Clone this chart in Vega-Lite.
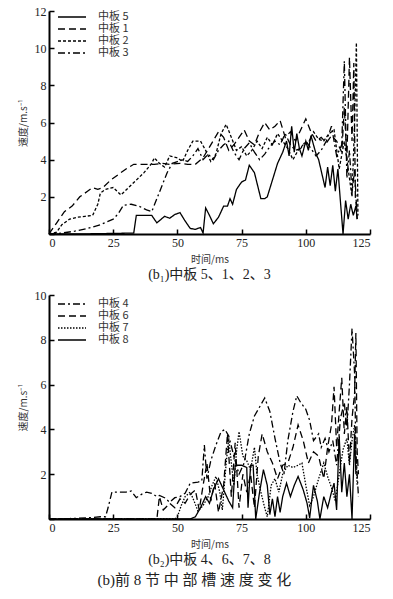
{
"$schema": "https://vega.github.io/schema/vega-lite/v6.json",
"background": "white",
"padding": {"left": 18, "top": 5, "right": 8, "bottom": 5},
"config": {
  "view": {"stroke": null},
  "font": "Liberation Serif, Noto Sans CJK SC",
  "axis": {"domainColor": "black", "domainWidth": 2, "tickColor": "black", "tickWidth": 1.5, "tickSize": -5, "labelFontSize": 12, "labelColor": "#222", "labelFont": "Liberation Serif, serif", "grid": false, "titleFont": "Noto Sans CJK SC", "titleFontWeight": "normal", "titleFontSize": 10, "titleColor": "#333", "labelPadding": 8},
  "axisY": {"titlePadding": 6},
  "axisX": {"titlePadding": 6},
  "legend": {"labelFont": "Noto Sans CJK SC", "labelFontSize": 11, "labelColor": "#333"}
},
"datasets": {
"p1": [
{"s":"中板 5","t":0,"v":0},{"s":"中板 5","t":10,"v":0},{"s":"中板 5","t":20,"v":0.02},{"s":"中板 5","t":33,"v":0.05},{"s":"中板 5","t":34,"v":1.0},{"s":"中板 5","t":40,"v":1.0},{"s":"中板 5","t":42,"v":0.6},{"s":"中板 5","t":45,"v":0.95},{"s":"中板 5","t":47,"v":0.85},{"s":"中板 5","t":49,"v":1.05},{"s":"中板 5","t":51,"v":1.15},{"s":"中板 5","t":53,"v":0.7},{"s":"中板 5","t":55,"v":0.3},{"s":"中板 5","t":57,"v":0.25},{"s":"中板 5","t":59,"v":0.35},{"s":"中板 5","t":60,"v":0.05},{"s":"中板 5","t":61,"v":1.4},{"s":"中板 5","t":62.5,"v":1.0},{"s":"中板 5","t":64,"v":0.55},{"s":"中板 5","t":66,"v":0.9},{"s":"中板 5","t":68,"v":1.5},{"s":"中板 5","t":69.5,"v":1.5},{"s":"中板 5","t":70.5,"v":1.9},{"s":"中板 5","t":71.5,"v":1.6},{"s":"中板 5","t":73,"v":2.4},{"s":"中板 5","t":75,"v":2.8},{"s":"中板 5","t":76.5,"v":2.9},{"s":"中板 5","t":78,"v":3.7},{"s":"中板 5","t":80,"v":3.3},{"s":"中板 5","t":82.5,"v":1.9},{"s":"中板 5","t":84,"v":1.9},{"s":"中板 5","t":85,"v":2.0},{"s":"中板 5","t":87,"v":2.9},{"s":"中板 5","t":89,"v":3.8},{"s":"中板 5","t":91,"v":4.4},{"s":"中板 5","t":92.5,"v":5.0},{"s":"中板 5","t":93.5,"v":4.2},{"s":"中板 5","t":94.5,"v":5.8},{"s":"中板 5","t":95.5,"v":4.4},{"s":"中板 5","t":96.5,"v":5.4},{"s":"中板 5","t":97.5,"v":4.6},{"s":"中板 5","t":98.5,"v":4.2},{"s":"中板 5","t":100,"v":5.0},{"s":"中板 5","t":101,"v":4.5},{"s":"中板 5","t":102,"v":5.3},{"s":"中板 5","t":103,"v":4.8},{"s":"中板 5","t":104,"v":4.3},{"s":"中板 5","t":105,"v":4.0},{"s":"中板 5","t":106,"v":3.4},{"s":"中板 5","t":107.5,"v":2.5},{"s":"中板 5","t":108.5,"v":3.6},{"s":"中板 5","t":109.5,"v":2.6},{"s":"中板 5","t":110.5,"v":3.7},{"s":"中板 5","t":111.5,"v":2.3},{"s":"中板 5","t":112.5,"v":3.5},{"s":"中板 5","t":113.4,"v":1.9},{"s":"中板 5","t":114.5,"v":0.0},{"s":"中板 5","t":115.5,"v":1.8},{"s":"中板 5","t":116.5,"v":0.8},{"s":"中板 5","t":117.5,"v":1.6},{"s":"中板 5","t":118.5,"v":1.0},{"s":"中板 5","t":119.5,"v":1.5},{"s":"中板 5","t":120,"v":0.8},
{"s":"中板 1","t":0,"v":0},{"s":"中板 1","t":3,"v":0.6},{"s":"中板 1","t":6,"v":1.2},{"s":"中板 1","t":9,"v":1.5},{"s":"中板 1","t":12,"v":2.0},{"s":"中板 1","t":15,"v":2.3},{"s":"中板 1","t":17,"v":2.5},{"s":"中板 1","t":19,"v":2.4},{"s":"中板 1","t":21,"v":2.5},{"s":"中板 1","t":24,"v":2.9},{"s":"中板 1","t":27,"v":3.2},{"s":"中板 1","t":30,"v":3.5},{"s":"中板 1","t":33,"v":3.75},{"s":"中板 1","t":37,"v":3.75},{"s":"中板 1","t":41,"v":3.75},{"s":"中板 1","t":44,"v":3.8},{"s":"中板 1","t":47,"v":3.75},{"s":"中板 1","t":51,"v":3.8},{"s":"中板 1","t":54,"v":3.75},{"s":"中板 1","t":57,"v":3.75},{"s":"中板 1","t":60,"v":4.1},{"s":"中板 1","t":63,"v":4.8},{"s":"中板 1","t":66,"v":5.5},{"s":"中板 1","t":68,"v":5.2},{"s":"中板 1","t":70,"v":4.5},{"s":"中板 1","t":72,"v":4.8},{"s":"中板 1","t":74,"v":5.2},{"s":"中板 1","t":76,"v":5.6},{"s":"中板 1","t":78,"v":5.0},{"s":"中板 1","t":80,"v":4.8},{"s":"中板 1","t":82,"v":5.5},{"s":"中板 1","t":84,"v":6.0},{"s":"中板 1","t":86,"v":5.6},{"s":"中板 1","t":88,"v":5.8},{"s":"中板 1","t":90,"v":6.1},{"s":"中板 1","t":92,"v":5.2},{"s":"中板 1","t":94,"v":5.5},{"s":"中板 1","t":96,"v":5.0},{"s":"中板 1","t":98,"v":5.6},{"s":"中板 1","t":100,"v":6.2},{"s":"中板 1","t":102,"v":5.5},{"s":"中板 1","t":104,"v":5.0},{"s":"中板 1","t":106,"v":5.2},{"s":"中板 1","t":108,"v":4.9},{"s":"中板 1","t":110,"v":5.3},{"s":"中板 1","t":112,"v":5.0},{"s":"中板 1","t":114,"v":4.4},{"s":"中板 1","t":115,"v":6.8},{"s":"中板 1","t":116,"v":4.0},{"s":"中板 1","t":117,"v":9.5},{"s":"中板 1","t":118,"v":5.0},{"s":"中板 1","t":118.7,"v":9.2},{"s":"中板 1","t":119.3,"v":2.0},{"s":"中板 1","t":120,"v":1.2},
{"s":"中板 2","t":0,"v":0},{"s":"中板 2","t":3,"v":0.1},{"s":"中板 2","t":5,"v":0.5},{"s":"中板 2","t":8,"v":0.8},{"s":"中板 2","t":11,"v":0.9},{"s":"中板 2","t":14,"v":0.95},{"s":"中板 2","t":17,"v":1.0},{"s":"中板 2","t":19,"v":1.6},{"s":"中板 2","t":20,"v":2.2},{"s":"中板 2","t":22,"v":2.4},{"s":"中板 2","t":25,"v":2.5},{"s":"中板 2","t":28,"v":2.1},{"s":"中板 2","t":31,"v":2.5},{"s":"中板 2","t":34,"v":2.9},{"s":"中板 2","t":37,"v":3.3},{"s":"中板 2","t":40,"v":3.8},{"s":"中板 2","t":41,"v":4.1},{"s":"中板 2","t":43,"v":3.8},{"s":"中板 2","t":45,"v":3.6},{"s":"中板 2","t":47,"v":4.2},{"s":"中板 2","t":50,"v":4.1},{"s":"中板 2","t":52,"v":3.9},{"s":"中板 2","t":54,"v":4.5},{"s":"中板 2","t":56,"v":5.0},{"s":"中板 2","t":59,"v":5.0},{"s":"中板 2","t":61,"v":4.5},{"s":"中板 2","t":63,"v":3.9},{"s":"中板 2","t":65,"v":4.3},{"s":"中板 2","t":67,"v":5.4},{"s":"中板 2","t":69,"v":5.9},{"s":"中板 2","t":71,"v":5.2},{"s":"中板 2","t":73,"v":4.5},{"s":"中板 2","t":75,"v":4.7},{"s":"中板 2","t":77,"v":4.2},{"s":"中板 2","t":79,"v":4.5},{"s":"中板 2","t":81,"v":5.0},{"s":"中板 2","t":83,"v":4.6},{"s":"中板 2","t":85,"v":5.2},{"s":"中板 2","t":87,"v":4.8},{"s":"中板 2","t":89,"v":5.4},{"s":"中板 2","t":91,"v":5.0},{"s":"中板 2","t":93,"v":4.6},{"s":"中板 2","t":95,"v":4.0},{"s":"中板 2","t":97,"v":4.5},{"s":"中板 2","t":99,"v":4.8},{"s":"中板 2","t":101,"v":4.9},{"s":"中板 2","t":103,"v":5.5},{"s":"中板 2","t":105,"v":5.1},{"s":"中板 2","t":107,"v":5.0},{"s":"中板 2","t":109,"v":5.4},{"s":"中板 2","t":111,"v":5.6},{"s":"中板 2","t":113,"v":3.5},{"s":"中板 2","t":115,"v":5.0},{"s":"中板 2","t":117,"v":3.0},{"s":"中板 2","t":118,"v":2.0},{"s":"中板 2","t":119,"v":6.0},{"s":"中板 2","t":119.7,"v":10.3},{"s":"中板 2","t":120.3,"v":1.0},
{"s":"中板 3","t":0,"v":0},{"s":"中板 3","t":5,"v":0.05},{"s":"中板 3","t":10,"v":0.15},{"s":"中板 3","t":15,"v":0.3},{"s":"中板 3","t":20,"v":0.5},{"s":"中板 3","t":25,"v":0.8},{"s":"中板 3","t":27,"v":1.1},{"s":"中板 3","t":29,"v":1.55},{"s":"中板 3","t":32,"v":1.6},{"s":"中板 3","t":35,"v":1.5},{"s":"中板 3","t":38,"v":1.3},{"s":"中板 3","t":40,"v":1.2},{"s":"中板 3","t":42,"v":1.9},{"s":"中板 3","t":44,"v":2.6},{"s":"中板 3","t":46,"v":3.3},{"s":"中板 3","t":48,"v":3.8},{"s":"中板 3","t":50,"v":3.9},{"s":"中板 3","t":52,"v":4.0},{"s":"中板 3","t":54,"v":3.9},{"s":"中板 3","t":56,"v":4.2},{"s":"中板 3","t":58,"v":4.6},{"s":"中板 3","t":60,"v":4.0},{"s":"中板 3","t":62,"v":4.3},{"s":"中板 3","t":64,"v":4.0},{"s":"中板 3","t":66,"v":4.5},{"s":"中板 3","t":68,"v":4.8},{"s":"中板 3","t":70,"v":5.0},{"s":"中板 3","t":72,"v":4.4},{"s":"中板 3","t":74,"v":4.0},{"s":"中板 3","t":76,"v":4.6},{"s":"中板 3","t":78,"v":4.9},{"s":"中板 3","t":80,"v":4.4},{"s":"中板 3","t":82,"v":4.0},{"s":"中板 3","t":84,"v":4.3},{"s":"中板 3","t":86,"v":4.7},{"s":"中板 3","t":88,"v":5.0},{"s":"中板 3","t":90,"v":4.8},{"s":"中板 3","t":92,"v":5.4},{"s":"中板 3","t":94,"v":4.8},{"s":"中板 3","t":96,"v":4.5},{"s":"中板 3","t":98,"v":4.6},{"s":"中板 3","t":100,"v":5.0},{"s":"中板 3","t":102,"v":4.6},{"s":"中板 3","t":104,"v":4.2},{"s":"中板 3","t":106,"v":4.5},{"s":"中板 3","t":108,"v":5.0},{"s":"中板 3","t":110,"v":5.8},{"s":"中板 3","t":112,"v":4.2},{"s":"中板 3","t":114,"v":4.8},{"s":"中板 3","t":115,"v":9.3},{"s":"中板 3","t":116,"v":3.0},{"s":"中板 3","t":117,"v":4.5},{"s":"中板 3","t":118,"v":2.2},{"s":"中板 3","t":119,"v":3.5},{"s":"中板 3","t":120,"v":0.8}
],
"p2": [
{"s":"中板 4","t":0,"v":0},{"s":"中板 4","t":8,"v":0.02},{"s":"中板 4","t":15,"v":0.05},{"s":"中板 4","t":20,"v":0.1},{"s":"中板 4","t":22,"v":0.1},{"s":"中板 4","t":23,"v":0.5},{"s":"中板 4","t":24.5,"v":1.2},{"s":"中板 4","t":27,"v":1.2},{"s":"中板 4","t":30,"v":1.2},{"s":"中板 4","t":32,"v":1.25},{"s":"中板 4","t":34,"v":0.95},{"s":"中板 4","t":36,"v":1.1},{"s":"中板 4","t":38,"v":1.2},{"s":"中板 4","t":40,"v":1.15},{"s":"中板 4","t":42,"v":1.0},{"s":"中板 4","t":43,"v":1.05},{"s":"中板 4","t":45,"v":0.95},{"s":"中板 4","t":47,"v":0.75},{"s":"中板 4","t":49,"v":0.95},{"s":"中板 4","t":51,"v":1.0},{"s":"中板 4","t":53,"v":1.15},{"s":"中板 4","t":55,"v":1.6},{"s":"中板 4","t":58,"v":1.65},{"s":"中板 4","t":59.5,"v":1.7},{"s":"中板 4","t":60.5,"v":3.3},{"s":"中板 4","t":61.5,"v":1.8},{"s":"中板 4","t":63,"v":2.6},{"s":"中板 4","t":65,"v":3.3},{"s":"中板 4","t":67,"v":3.9},{"s":"中板 4","t":68.5,"v":4.0},{"s":"中板 4","t":70,"v":3.7},{"s":"中板 4","t":72,"v":2.8},{"s":"中板 4","t":74,"v":2.0},{"s":"中板 4","t":76,"v":2.5},{"s":"中板 4","t":78,"v":3.8},{"s":"中板 4","t":80,"v":4.6},{"s":"中板 4","t":82,"v":5.0},{"s":"中板 4","t":84,"v":5.4},{"s":"中板 4","t":86,"v":4.8},{"s":"中板 4","t":88,"v":3.6},{"s":"中板 4","t":90,"v":2.5},{"s":"中板 4","t":91.5,"v":2.0},{"s":"中板 4","t":93,"v":3.5},{"s":"中板 4","t":95,"v":4.8},{"s":"中板 4","t":96.5,"v":5.5},{"s":"中板 4","t":98,"v":5.2},{"s":"中板 4","t":100,"v":4.9},{"s":"中板 4","t":101.5,"v":4.4},{"s":"中板 4","t":103,"v":3.5},{"s":"中板 4","t":105,"v":3.8},{"s":"中板 4","t":106,"v":3.2},{"s":"中板 4","t":107.5,"v":3.6},{"s":"中板 4","t":109,"v":3.0},{"s":"中板 4","t":110.5,"v":3.5},{"s":"中板 4","t":112,"v":2.4},{"s":"中板 4","t":113.5,"v":4.5},{"s":"中板 4","t":115,"v":5.2},{"s":"中板 4","t":116,"v":4.0},{"s":"中板 4","t":117,"v":6.0},{"s":"中板 4","t":118,"v":8.5},{"s":"中板 4","t":119,"v":6.5},{"s":"中板 4","t":119.5,"v":3.0},{"s":"中板 4","t":120.5,"v":1.0},
{"s":"中板 6","t":0,"v":0},{"s":"中板 6","t":42,"v":0},{"s":"中板 6","t":43,"v":1.0},{"s":"中板 6","t":44.5,"v":0.4},{"s":"中板 6","t":47,"v":0.7},{"s":"中板 6","t":49,"v":0.5},{"s":"中板 6","t":51,"v":0.9},{"s":"中板 6","t":53,"v":0.7},{"s":"中板 6","t":55,"v":1.1},{"s":"中板 6","t":57,"v":1.3},{"s":"中板 6","t":58.5,"v":0.4},{"s":"中板 6","t":60,"v":1.5},{"s":"中板 6","t":61.5,"v":2.5},{"s":"中板 6","t":63,"v":0.8},{"s":"中板 6","t":64.5,"v":1.6},{"s":"中板 6","t":66,"v":0.3},{"s":"中板 6","t":68,"v":1.5},{"s":"中板 6","t":69.5,"v":3.8},{"s":"中板 6","t":71,"v":1.0},{"s":"中板 6","t":72.5,"v":3.4},{"s":"中板 6","t":74,"v":0.5},{"s":"中板 6","t":75.5,"v":2.0},{"s":"中板 6","t":77,"v":1.2},{"s":"中板 6","t":78.5,"v":2.0},{"s":"中板 6","t":80,"v":0.5},{"s":"中板 6","t":81.5,"v":2.8},{"s":"中板 6","t":83,"v":3.8},{"s":"中板 6","t":85,"v":3.0},{"s":"中板 6","t":87,"v":2.5},{"s":"中板 6","t":89,"v":1.8},{"s":"中板 6","t":91,"v":2.4},{"s":"中板 6","t":93,"v":2.5},{"s":"中板 6","t":95,"v":3.2},{"s":"中板 6","t":97,"v":4.2},{"s":"中板 6","t":99,"v":3.5},{"s":"中板 6","t":101,"v":2.5},{"s":"中板 6","t":103,"v":3.0},{"s":"中板 6","t":105,"v":2.8},{"s":"中板 6","t":107,"v":1.8},{"s":"中板 6","t":108.5,"v":3.2},{"s":"中板 6","t":110,"v":4.2},{"s":"中板 6","t":111,"v":5.9},{"s":"中板 6","t":112,"v":3.2},{"s":"中板 6","t":113,"v":4.8},{"s":"中板 6","t":114,"v":6.3},{"s":"中板 6","t":115,"v":3.8},{"s":"中板 6","t":116,"v":5.0},{"s":"中板 6","t":117,"v":2.5},{"s":"中板 6","t":118,"v":4.5},{"s":"中板 6","t":119,"v":5.6},{"s":"中板 6","t":119.5,"v":8.3},{"s":"中板 6","t":120,"v":3.0},{"s":"中板 6","t":120.5,"v":2.0},
{"s":"中板 7","t":0,"v":0},{"s":"中板 7","t":49,"v":0},{"s":"中板 7","t":50,"v":0.1},{"s":"中板 7","t":51.5,"v":0.6},{"s":"中板 7","t":53,"v":1.0},{"s":"中板 7","t":55,"v":1.2},{"s":"中板 7","t":56.5,"v":0.8},{"s":"中板 7","t":58,"v":0.35},{"s":"中板 7","t":60,"v":0.6},{"s":"中板 7","t":62,"v":1.0},{"s":"中板 7","t":63.5,"v":1.5},{"s":"中板 7","t":65,"v":1.9},{"s":"中板 7","t":66.5,"v":1.2},{"s":"中板 7","t":67.5,"v":0.4},{"s":"中板 7","t":69,"v":2.5},{"s":"中板 7","t":70,"v":3.6},{"s":"中板 7","t":71,"v":2.5},{"s":"中板 7","t":72,"v":1.5},{"s":"中板 7","t":73,"v":3.0},{"s":"中板 7","t":74,"v":3.9},{"s":"中板 7","t":75.5,"v":2.8},{"s":"中板 7","t":77,"v":2.6},{"s":"中板 7","t":78.5,"v":2.2},{"s":"中板 7","t":80,"v":3.2},{"s":"中板 7","t":81,"v":2.0},{"s":"中板 7","t":82.5,"v":1.2},{"s":"中板 7","t":84,"v":0.5},{"s":"中板 7","t":85,"v":0.1},{"s":"中板 7","t":86.5,"v":1.5},{"s":"中板 7","t":88,"v":1.8},{"s":"中板 7","t":89.5,"v":1.2},{"s":"中板 7","t":91,"v":2.0},{"s":"中板 7","t":93,"v":2.4},{"s":"中板 7","t":95,"v":2.3},{"s":"中板 7","t":97,"v":2.4},{"s":"中板 7","t":98.5,"v":2.5},{"s":"中板 7","t":100,"v":1.5},{"s":"中板 7","t":101.5,"v":0.6},{"s":"中板 7","t":103,"v":1.0},{"s":"中板 7","t":105,"v":1.8},{"s":"中板 7","t":107,"v":2.5},{"s":"中板 7","t":108.5,"v":1.9},{"s":"中板 7","t":110,"v":1.4},{"s":"中板 7","t":111.5,"v":0.8},{"s":"中板 7","t":113,"v":2.0},{"s":"中板 7","t":114.5,"v":3.1},{"s":"中板 7","t":116,"v":3.6},{"s":"中板 7","t":117,"v":2.4},{"s":"中板 7","t":118,"v":3.5},{"s":"中板 7","t":119,"v":4.2},{"s":"中板 7","t":120,"v":1.5},
{"s":"中板 8","t":0,"v":0},{"s":"中板 8","t":55,"v":0},{"s":"中板 8","t":57,"v":0.1},{"s":"中板 8","t":59,"v":0.5},{"s":"中板 8","t":61,"v":1.0},{"s":"中板 8","t":62.5,"v":0.7},{"s":"中板 8","t":64,"v":1.3},{"s":"中板 8","t":66,"v":1.8},{"s":"中板 8","t":68,"v":1.3},{"s":"中板 8","t":70,"v":0.8},{"s":"中板 8","t":71.5,"v":0.5},{"s":"中板 8","t":72.5,"v":2.4},{"s":"中板 8","t":75,"v":2.4},{"s":"中板 8","t":77,"v":2.3},{"s":"中板 8","t":77.5,"v":0.5},{"s":"中板 8","t":78.5,"v":2.4},{"s":"中板 8","t":79.5,"v":2.4},{"s":"中板 8","t":80.5,"v":0.0},{"s":"中板 8","t":82,"v":1.2},{"s":"中板 8","t":83.5,"v":2.2},{"s":"中板 8","t":85,"v":1.5},{"s":"中板 8","t":86,"v":0.2},{"s":"中板 8","t":87,"v":0.9},{"s":"中板 8","t":88,"v":0.1},{"s":"中板 8","t":89,"v":1.0},{"s":"中板 8","t":90,"v":0.3},{"s":"中板 8","t":91,"v":1.0},{"s":"中板 8","t":92.5,"v":1.6},{"s":"中板 8","t":94,"v":1.0},{"s":"中板 8","t":95.5,"v":1.5},{"s":"中板 8","t":97,"v":1.9},{"s":"中板 8","t":99,"v":1.3},{"s":"中板 8","t":100.5,"v":0.7},{"s":"中板 8","t":101.5,"v":0.05},{"s":"中板 8","t":103,"v":1.5},{"s":"中板 8","t":104.5,"v":0.8},{"s":"中板 8","t":105.5,"v":0.0},{"s":"中板 8","t":107,"v":1.0},{"s":"中板 8","t":108.5,"v":0.5},{"s":"中板 8","t":110,"v":1.2},{"s":"中板 8","t":111,"v":1.6},{"s":"中板 8","t":112,"v":0.4},{"s":"中板 8","t":113,"v":3.7},{"s":"中板 8","t":114,"v":1.2},{"s":"中板 8","t":115,"v":2.5},{"s":"中板 8","t":116,"v":1.0},{"s":"中板 8","t":117,"v":2.0},{"s":"中板 8","t":118,"v":0.0},{"s":"中板 8","t":119,"v":3.8},{"s":"中板 8","t":119.5,"v":2.0}
]
},
"title": {"text": "(b)前 8 节 中 部 槽 速 度 变 化", "orient": "bottom", "anchor": "middle", "fontSize": 15, "fontWeight": "normal", "font": "Liberation Serif, Noto Sans CJK SC", "color": "#222", "offset": 6},
"spacing": 7,
"resolve": {"scale": {"strokeDash": "independent"}, "legend": {"strokeDash": "independent"}},
"vconcat": [
{
  "width": 321, "height": 223,
  "data": {"name": "p1"},
  "title": {"text": "(b₁)中板 5、1、2、3", "orient": "bottom", "anchor": "middle", "fontSize": 14, "fontWeight": "normal", "font": "Liberation Serif, Noto Sans CJK SC", "color": "#222", "offset": 4},
  "mark": {"type": "line", "color": "black", "strokeWidth": 1.3},
  "encoding": {
    "x": {"field": "t", "type": "quantitative", "scale": {"domain": [0, 125], "nice": false}, "axis": {"values": [0, 25, 50, 75, 100, 125], "title": "时间/ms"}},
    "y": {"field": "v", "type": "quantitative", "scale": {"domain": [0, 12], "nice": false}, "axis": {"values": [0, 2, 4, 6, 8, 10, 12], "labelExpr": "datum.value == 0 ? '' : datum.label", "title": "速度/m.s⁻¹"}},
    "strokeDash": {"field": "s", "type": "nominal", "scale": {"domain": ["中板 5", "中板 1", "中板 2", "中板 3"], "range": [[1, 0], [7, 4], [3, 2], [7, 3, 2, 3]]},
      "legend": {"title": null, "orient": "none", "legendX": 17, "legendY": 0, "padding": 0, "symbolType": "M-2.8,0H2.8", "symbolSize": 100, "symbolStrokeColor": "black", "symbolFillColor": "transparent", "symbolStrokeWidth": 1.3, "labelOffset": 20, "rowPadding": 1}}
  }
},
{
  "width": 321, "height": 224,
  "data": {"name": "p2"},
  "title": {"text": "(b₂)中板 4、6、7、8", "orient": "bottom", "anchor": "middle", "fontSize": 14, "fontWeight": "normal", "font": "Liberation Serif, Noto Sans CJK SC", "color": "#222", "offset": 4},
  "mark": {"type": "line", "color": "black", "strokeWidth": 1.3},
  "encoding": {
    "x": {"field": "t", "type": "quantitative", "scale": {"domain": [0, 125], "nice": false}, "axis": {"values": [0, 25, 50, 75, 100, 125], "title": "时间/ms"}},
    "y": {"field": "v", "type": "quantitative", "scale": {"domain": [0, 10], "nice": false}, "axis": {"values": [0, 2, 4, 6, 8, 10], "labelExpr": "datum.value == 0 ? '' : datum.label", "title": "速度/m.s⁻¹"}},
    "strokeDash": {"field": "s", "type": "nominal", "scale": {"domain": ["中板 4", "中板 6", "中板 7", "中板 8"], "range": [[7, 3, 2, 3], [7, 4], [1.5, 1.5], [1, 0]]},
      "legend": {"title": null, "orient": "none", "legendX": 17, "legendY": 3, "padding": 0, "symbolType": "M-2.8,0H2.8", "symbolSize": 100, "symbolStrokeColor": "black", "symbolFillColor": "transparent", "symbolStrokeWidth": 1.3, "labelOffset": 20, "rowPadding": 1}}
  }
}
]
}
